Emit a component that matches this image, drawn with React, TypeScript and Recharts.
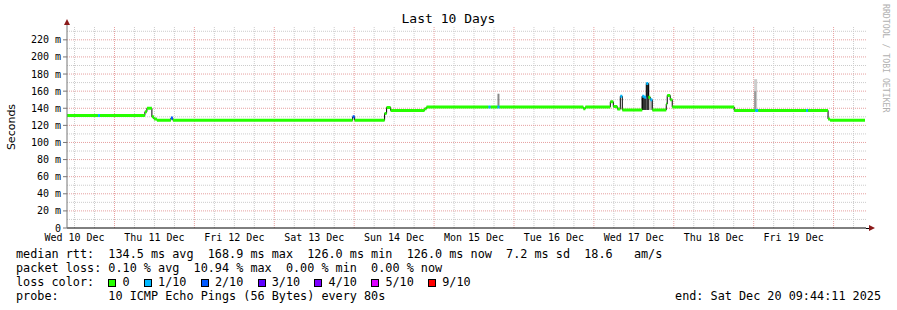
import React from "react"
import {
    LineChart,
    Line,
    XAxis,
    YAxis,
    CartesianGrid,
    ReferenceArea,
} from "recharts"

// hours since graph start (Wed Dec 10 09:44:11)
const START_HOUR = 9 + 44 / 60 + 11 / 3600
const END_T = 239.7

const dayLabels = [
    "Wed 10 Dec",
    "Thu 11 Dec",
    "Fri 12 Dec",
    "Sat 13 Dec",
    "Sun 14 Dec",
    "Mon 15 Dec",
    "Tue 16 Dec",
    "Wed 17 Dec",
    "Thu 18 Dec",
    "Fri 19 Dec",
]

const yTicks = [0, 20, 40, 60, 80, 100, 120, 140, 160, 180, 200, 220]

// median rtt steps: start hour, value (ms), loss level
const segStart = [
    0, 9.3, 9.9, 23.4, 24, 25.5, 26.1, 27, 31.2, 31.8,
    85.8, 86.4, 95.4, 96, 97.2, 107.4, 108, 126.6, 127.2, 129.3,
    129.9, 155.1, 155.7, 163.2, 164.1, 165.3, 166.2, 166.8, 172.8, 173.4,
    174, 174.6, 175.2, 175.8, 180, 180.3, 181.2, 181.8, 200.4, 206.7,
    207.6, 222, 222.6, 228.6, 229.2,
]
const median = [
    131.5, 131.5, 131.5, 136, 140, 130, 127.5, 126, 128.5, 126,
    130, 126, 134, 141, 137.5, 139.5, 141.5, 141.5, 141.5, 141.5,
    141.5, 139.5, 141.5, 147.5, 142, 139, 154, 138, 154, 153,
    169, 153, 150, 138, 145, 155, 150, 141.5, 137.5, 137.5,
    137.5, 137.5, 137.5, 127.5, 126,
]
const loss = [
    0, 1, 0, 0, 0, 0, 0, 0, 2, 0,
    2, 0, 0, 0, 0, 0, 0, 1, 0, 1,
    0, 0, 0, 0, 0, 0, 1, 0, 1, 1,
    1, 0, 1, 0, 0, 0, 0, 0, 0, 1,
    0, 1, 0, 0, 0,
]

// smoke (ping spread) spikes
const smokeFrom = [129.3, 172.6, 174.0, 174.9, 206.4, 206.4]
const smokeTo = [129.9, 174.0, 174.9, 175.8, 207.3, 207.0]
const smokeLo = [141.5, 138, 138, 138, 138, 138]
const smokeHi = [157, 154, 169, 150, 174, 160]
const smokeFill = ["#888888", "#333333", "#333333", "#bbbbbb", "#cccccc", "#999999"]

const lossLabels = ["0", "1/10", "2/10", "3/10", "4/10", "5/10", "9/10"]
const lossColors = ["#26ff00", "#00b8ff", "#0059ff", "#5e00ff", "#7e00ff", "#dd00ff", "#ff0000"]

const dayTicks = dayLabels.map((_, i) => 12 - START_HOUR + 24 * i)

const minorX: number[] = []
const majorX: number[] = []
for (let j = 1; 6 * j - START_HOUR < 240; j++) {
    const t = 6 * j - START_HOUR
    if (t <= 0) continue
    if (j % 4 === 0) majorX.push(t)
    else minorX.push(t)
}
const minorY = [10, 30, 50, 70, 90, 110, 130, 150, 170, 190, 210, 230]
const majorY = yTicks.filter((v) => v > 0)

const rows: any[] = []
segStart.forEach((s, i) => {
    const e = i + 1 < segStart.length ? segStart[i + 1] : END_T
    const key = "g" + loss[i]
    rows.push({ t: s, m: median[i], [key]: median[i] })
    rows.push({ t: e, m: median[i], [key]: median[i] })
    rows.push({ t: e })
})

const mono = '"DejaVu Sans Mono", monospace'

export default function App() {
    return (
        <div style={{ position: "absolute", left: 0, top: 0, width: 897, height: 310, background: "#fff" }}>
            <LineChart
                width={897}
                height={310}
                data={rows}
                margin={{ top: 27, right: 31, left: 20, bottom: 62 }}
            >
                <CartesianGrid
                    stroke="#cccccc"
                    strokeDasharray="1 1"
                    horizontalValues={minorY}
                    verticalValues={minorX}
                />
                <CartesianGrid
                    stroke="#e6a0a0"
                    strokeDasharray="1 1"
                    horizontalValues={majorY}
                    verticalValues={majorX}
                />
                <XAxis
                    dataKey="t"
                    type="number"
                    domain={[0, 240]}
                    ticks={dayTicks}
                    tickFormatter={(v, i) => dayLabels[i]}
                    tickLine={false}
                    tickSize={4}
                    tickMargin={2}
                    height={20}
                    axisLine={{ stroke: "#000" }}
                    tick={{ fontFamily: mono, fontSize: 10, fill: "#000" }}
                    interval={0}
                    allowDataOverflow
                />
                <YAxis
                    type="number"
                    domain={[0, 235]}
                    ticks={yTicks}
                    width={47}
                    tickSize={4}
                    tickMargin={2}
                    tickLine={{ stroke: "#777" }}
                    axisLine={{ stroke: "#777" }}
                    tickFormatter={(v) => (v === 0 ? "0" : v + " m")}
                    tick={{ fontFamily: mono, fontSize: 10, fill: "#000" }}
                    interval={0}
                    allowDataOverflow
                />
                {smokeFrom.map((x1, i) => (
                    <ReferenceArea
                        key={"s" + i}
                        x1={x1}
                        x2={smokeTo[i]}
                        y1={smokeLo[i]}
                        y2={smokeHi[i]}
                        fill={smokeFill[i]}
                        fillOpacity={1}
                        stroke="none"
                    />
                ))}
                <Line
                    dataKey="m"
                    type="linear"
                    stroke="#000"
                    strokeWidth={1}
                    dot={false}
                    connectNulls
                    isAnimationActive={false}
                />
                {[0, 1, 2].map((k) => (
                    <Line
                        key={"g" + k}
                        dataKey={"g" + k}
                        type="linear"
                        stroke={lossColors[k]}
                        strokeWidth={3}
                        dot={false}
                        connectNulls={false}
                        isAnimationActive={false}
                    />
                ))}
            </LineChart>

            <svg
                width={897}
                height={310}
                style={{ position: "absolute", left: 0, top: 0, pointerEvents: "none" }}
            >
                <line x1={67} y1={24} x2={67} y2={27} stroke="#777" />
                <polygon points="64,25 70,25 67,19" fill="#8b1a1a" />
                <line x1={866} y1={228.5} x2={869} y2={228.5} stroke="#000" />
                <polygon points="869,225 869,231 875,228" fill="#8b1a1a" />
                <text
                    x={11}
                    y={127}
                    transform="rotate(-90 11 127)"
                    textAnchor="middle"
                    dominantBaseline="central"
                    fontFamily='"DejaVu Sans", sans-serif'
                    fontSize={11}
                    fill="#000"
                >
                    Seconds
                </text>
            </svg>

            <div
                style={{
                    position: "absolute",
                    left: 0,
                    top: 11,
                    width: 897,
                    textAlign: "center",
                    fontFamily: mono,
                    fontSize: 13,
                    lineHeight: "16px",
                }}
            >
                Last 10 Days
            </div>

            <div
                style={{
                    position: "absolute",
                    left: 881,
                    top: 4,
                    writingMode: "vertical-rl",
                    fontFamily: mono,
                    fontSize: 8.2,
                    color: "#b0b0b0",
                }}
            >
                RRDTOOL / TOBI OETIKER
            </div>

            <div
                style={{
                    position: "absolute",
                    left: 16,
                    top: 247,
                    fontFamily: mono,
                    fontSize: 11.8,
                    lineHeight: "14px",
                    whiteSpace: "pre",
                    color: "#000",
                }}
            >
                <div>median rtt:  134.5 ms avg  168.9 ms max  126.0 ms min  126.0 ms now  7.2 ms sd  18.6   am/s</div>
                <div>packet loss: 0.10 % avg  10.94 % max  0.00 % min  0.00 % now</div>
                <div>
                    {"loss color:  "}
                    {lossLabels.map((lab, i) => (
                        <span key={lab}>
                            <span style={{ display: "inline-block", width: "2ch" }}>
                                <span
                                    style={{
                                        display: "inline-block",
                                        width: 6,
                                        height: 6,
                                        border: "1px solid #000",
                                        background: lossColors[i],
                                        verticalAlign: "-1px",
                                    }}
                                />
                            </span>
                            {lab + "  "}
                        </span>
                    ))}
                </div>
                <div>probe:       10 ICMP Echo Pings (56 Bytes) every 80s</div>
            </div>

            <div
                style={{
                    position: "absolute",
                    right: 16,
                    top: 289,
                    fontFamily: mono,
                    fontSize: 11.8,
                    lineHeight: "14px",
                    whiteSpace: "pre",
                }}
            >
                end: Sat Dec 20 09:44:11 2025
            </div>
        </div>
    )
}
